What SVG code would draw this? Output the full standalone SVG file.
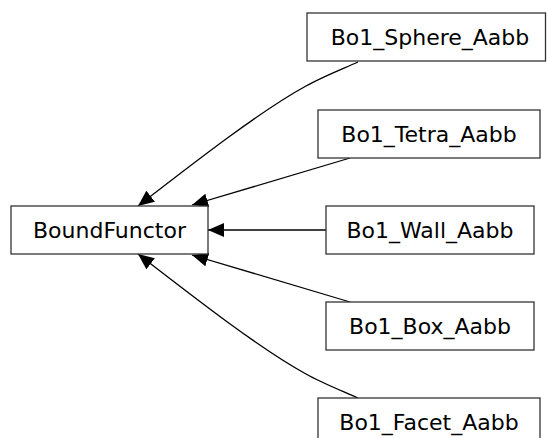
<svg xmlns="http://www.w3.org/2000/svg" width="547" height="438" viewBox="0 0 547 438">
<style>
.box{fill:#fff;stroke:#333;stroke-width:1.3}
.lbl{font-family:"DejaVu Sans",sans-serif;font-size:22px;fill:#000;text-anchor:middle}
.edge{fill:none;stroke:#000;stroke-width:1.3}
</style>
<defs>
<marker id="arr" markerUnits="userSpaceOnUse" markerWidth="16" markerHeight="14" viewBox="0 0 16 14" refX="16" refY="7" orient="auto">
<path d="M0,0 L16,7 L0,14 z" fill="#000"/>
</marker>
</defs>
<rect width="547" height="438" fill="#fff"/>
<g id="connectors">
<path class="edge" marker-end="url(#arr)" d="M358,62 C340,70 322,77 306,86 C262,110 200,158 138,206"/>
<path class="edge" marker-end="url(#arr)" d="M350,158 L192,205"/>
<path class="edge" marker-end="url(#arr)" d="M326,230 L208,230"/>
<path class="edge" marker-end="url(#arr)" d="M350,302 L192,255"/>
<path class="edge" marker-end="url(#arr)" d="M358,398 C340,390 322,383 306,374 C262,350 200,302 138,254"/>
</g>
<g id="BoundFunctor"><rect class="box" x="11" y="206" width="197" height="48"/><text class="lbl" x="109.5" y="237.5">BoundFunctor</text></g>
<g id="Bo1_Sphere_Aabb"><rect class="box" x="307" y="13" width="238.5" height="48"/><text class="lbl" x="430" y="44.5">Bo1_Sphere_Aabb</text></g>
<g id="Bo1_Tetra_Aabb"><rect class="box" x="318" y="110" width="222" height="48"/><text class="lbl" x="429" y="141.5">Bo1_Tetra_Aabb</text></g>
<g id="Bo1_Wall_Aabb"><rect class="box" x="326" y="206" width="208" height="48"/><text class="lbl" x="430" y="237.5">Bo1_Wall_Aabb</text></g>
<g id="Bo1_Box_Aabb"><rect class="box" x="326" y="302" width="208" height="48"/><text class="lbl" x="430" y="333.5">Bo1_Box_Aabb</text></g>
<g id="Bo1_Facet_Aabb"><rect class="box" x="318" y="398" width="222" height="48"/><text class="lbl" x="429" y="429.5">Bo1_Facet_Aabb</text></g>
</svg>
